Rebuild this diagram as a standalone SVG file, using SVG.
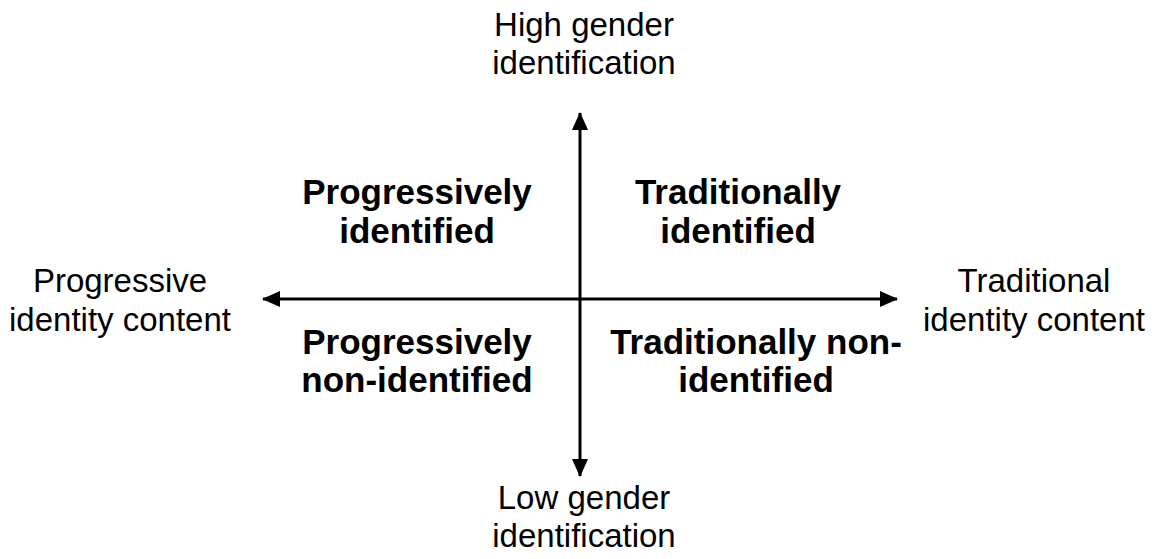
<svg xmlns="http://www.w3.org/2000/svg" width="1156" height="559" viewBox="0 0 1156 559">
<style>
.lbl{font-family:"Liberation Sans",Arial,sans-serif;font-size:33px;fill:#000;text-anchor:middle}
.q{font-family:"Liberation Sans",Arial,sans-serif;font-size:35px;font-weight:bold;fill:#000;text-anchor:middle}
.ax{stroke:#000;stroke-width:3;fill:none}
</style>
<defs>
<marker id="ah" viewBox="0 0 18 16" refX="17" refY="8" markerWidth="18" markerHeight="16" markerUnits="userSpaceOnUse" orient="auto-start-reverse">
<path d="M0,0 L18,8 L0,16 Z" fill="#000"/>
</marker>
</defs>
<rect width="1156" height="559" fill="#fff"/>
<g id="connectors">
<line class="ax" x1="580" y1="113" x2="580" y2="476" marker-start="url(#ah)" marker-end="url(#ah)"/>
<line class="ax" x1="263" y1="299" x2="897" y2="299" marker-start="url(#ah)" marker-end="url(#ah)"/>
</g>
<g id="high"><text class="lbl" x="584" y="36">High gender</text><text class="lbl" x="584" y="74">identification</text></g>
<g id="low"><text class="lbl" x="584" y="509">Low gender</text><text class="lbl" x="584" y="547">identification</text></g>
<g id="progressive"><text class="lbl" x="120" y="292">Progressive</text><text class="lbl" x="120" y="331">identity content</text></g>
<g id="traditional"><text class="lbl" x="1034" y="292">Traditional</text><text class="lbl" x="1034" y="331">identity content</text></g>
<g id="q-pi"><text class="q" x="417" y="204">Progressively</text><text class="q" x="417" y="243">identified</text></g>
<g id="q-ti"><text class="q" x="738" y="204">Traditionally</text><text class="q" x="738" y="243">identified</text></g>
<g id="q-pn"><text class="q" x="417" y="354">Progressively</text><text class="q" x="417" y="392">non-identified</text></g>
<g id="q-tn"><text class="q" x="756" y="354">Traditionally non-</text><text class="q" x="756" y="392">identified</text></g>
</svg>
